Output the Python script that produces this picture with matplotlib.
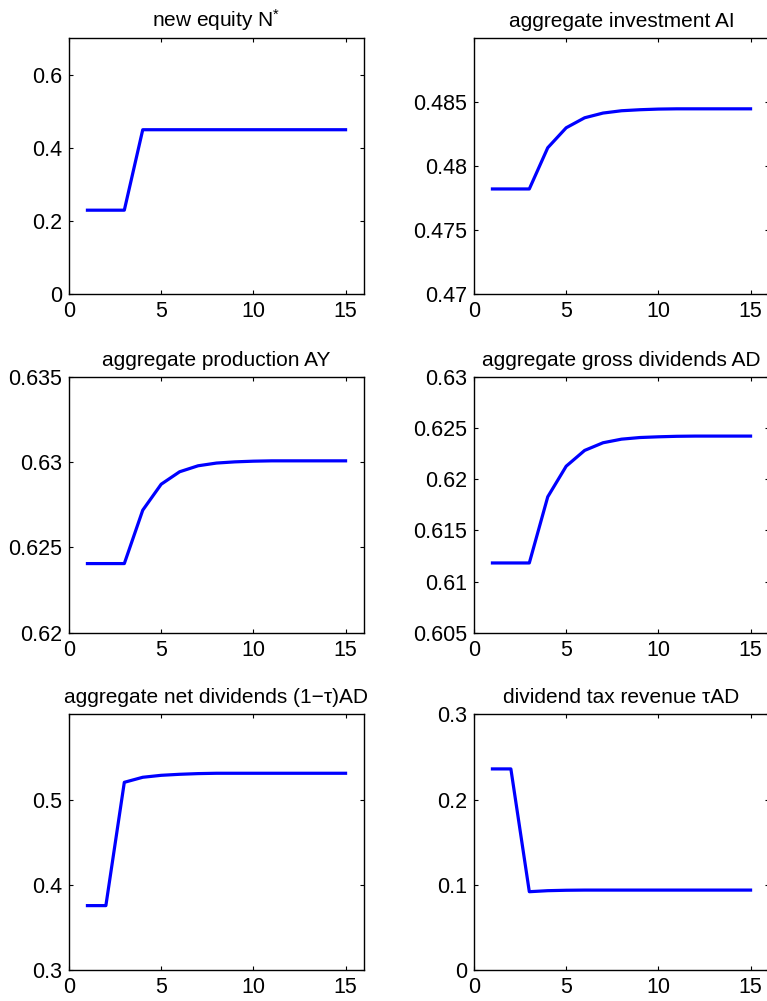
import matplotlib
matplotlib.use('Agg')
import matplotlib.pyplot as plt
from matplotlib.ticker import FuncFormatter

plt.rcParams['font.family'] = ['Liberation Sans', 'DejaVu Sans']
plt.rcParams['mathtext.fontset'] = 'custom'
plt.rcParams['mathtext.rm'] = 'Liberation Sans'
plt.rcParams['mathtext.it'] = 'Liberation Sans:italic'

# periods
t = list(range(1, 16))

new_equity = [0.23, 0.23, 0.23, 0.45, 0.45, 0.45, 0.45, 0.45, 0.45, 0.45,
              0.45, 0.45, 0.45, 0.45, 0.45]
agg_investment = [0.47823, 0.47823, 0.47823, 0.48145, 0.48301, 0.48379, 0.48416,
                  0.48434, 0.48442, 0.48447, 0.48449, 0.48449, 0.48449, 0.48449, 0.48449]
agg_production = [0.62405, 0.62405, 0.62405, 0.62718, 0.62870, 0.62943, 0.62978,
                  0.62994, 0.63001, 0.63005, 0.63007, 0.63007, 0.63007, 0.63007, 0.63007]
gross_dividends = [0.61181, 0.61181, 0.61181, 0.61827, 0.62126, 0.62280, 0.62355,
                   0.62390, 0.62406, 0.62413, 0.62418, 0.62420, 0.62420, 0.62420, 0.62420]
net_dividends = [0.3758, 0.3758, 0.5203, 0.5262, 0.5285, 0.5297, 0.5305, 0.5309,
                 0.5309, 0.5309, 0.5309, 0.5309, 0.5309, 0.5309, 0.5309]
tax_revenue = [0.2360, 0.2360, 0.0921, 0.0933, 0.0938, 0.0940, 0.0940, 0.0940,
               0.0940, 0.0940, 0.0940, 0.0940, 0.0940, 0.0940, 0.0940]

titles = ['new equity N$^{*}$', 'aggregate investment AI',
          'aggregate production AY', 'aggregate gross dividends AD',
          'aggregate net dividends (1\u2212\u03c4)AD', 'dividend tax revenue \u03c4AD']
series = [new_equity, agg_investment, agg_production, gross_dividends,
          net_dividends, tax_revenue]
ylims = [(0, 0.7), (0.47, 0.49), (0.62, 0.635), (0.605, 0.63), (0.3, 0.6), (0, 0.3)]
yticks = [[0, 0.2, 0.4, 0.6],
          [0.47, 0.475, 0.48, 0.485],
          [0.62, 0.625, 0.63, 0.635],
          [0.605, 0.61, 0.615, 0.62, 0.625, 0.63],
          [0.3, 0.4, 0.5],
          [0, 0.1, 0.2, 0.3]]

W, H = 767, 1001
fig = plt.figure(figsize=(W / 100, H / 100), dpi=100)

lefts = [69, 474]
tops = [38.3, 376.7, 714.3]
aw, ah = 295, 256

for i in range(6):
    row, col = divmod(i, 2)
    ax = fig.add_axes([lefts[col] / W, 1 - (tops[row] + ah) / H, aw / W, ah / H])
    ax.plot(t, series[i], color='#0000ff', lw=2.3)
    ax.set_xlim(0, 16)
    ax.set_xticks([0, 5, 10, 15])
    ax.set_ylim(*ylims[i])
    ax.set_yticks(yticks[i])
    ax.yaxis.set_major_formatter(FuncFormatter(lambda v, p: '%g' % round(v, 4)))
    ax.tick_params(direction='in', top=True, right=True, length=3, width=0.8,
                   labelsize=15.5, pad=5)
    for s in ax.spines.values():
        s.set_linewidth(1.0)
    ax.set_title(titles[i], fontsize=15, pad=8)

fig.savefig('out.png', dpi=100)
